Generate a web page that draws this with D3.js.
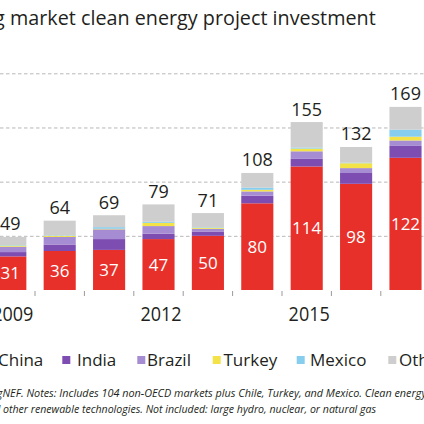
<!DOCTYPE html>
<html><head><meta charset="utf-8">
<script src="https://cdn.jsdelivr.net/npm/d3@7/dist/d3.min.js"></script>
<style>html,body{margin:0;padding:0;background:#fff;overflow:hidden}</style>
</head><body>
<svg id="c" width="424" height="424"></svg>
<script>
// ---- data ----
const years   = [2009, 2010, 2011, 2012, 2013, 2014, 2015, 2016, 2017];
const china   = [31, 36, 37, 47, 50, 80, 114, 98, 122];
const india   = [4, 6, 10, 5, 4, 7, 7, 10, 11];
const brazil  = [5, 7, 9, 7, 2.5, 4, 7, 4.5, 5];
const turkey  = [1, 1, 0.5, 3, 1, 1.5, 2.5, 4.5, 3.5];
const mexico  = [0.5, 0.5, 1.5, 1, 0.5, 2, 1, 0.5, 6.5];
const other   = [7.5, 13.5, 11, 16, 13, 13.5, 23.5, 14.5, 21];
const totals  = [49, 64, 69, 79, 71, 108, 155, 132, 169];
const seriesNames  = ["China", "India", "Brazil", "Turkey", "Mexico", "Other"];
const seriesColors = ["#e8302a", "#7d4db2", "#a68cd2", "#f3e349", "#86cdee", "#cecece"];
const yTickValues  = [50, 100, 150, 200];
const xLabelYears  = [2009, 2012, 2015];
const titleText = "Emerging market clean energy project investment";
const note1 = "Source: BloombergNEF. Notes: Includes 104 non-OECD markets plus Chile, Turkey, and Mexico. Clean energy includes wind, solar, biomass & waste,";
const note2 = "geothermal, small hydro and other renewable technologies. Not included: large hydro, nuclear, or natural gas";

// ---- layout ----
const W = 424, H = 424;
const baseY = 290, topY = 73.3;
const FONT = "'Open Sans', 'Noto Sans', sans-serif";
const TXT = "#231f20";

const svg = d3.select("#c");
const seriesVals = [china, india, brazil, turkey, mexico, other];
const table = years.map((y, i) => {
  const r = {year: y};
  seriesNames.forEach((s, k) => r[s] = seriesVals[k][i]);
  return r;
});
const stacked = d3.stack().keys(seriesNames)(table);

const x = d3.scaleBand().domain(years).range([-14.4, 430.2])
  .paddingInner(0.35).paddingOuter(0.175);
const y = d3.scaleLinear().domain([0, 200]).range([baseY, topY]);
const color = d3.scaleOrdinal().domain(seriesNames).range(seriesColors);

// gridlines
const grid = svg.append("g")
  .call(d3.axisRight(y).tickValues(yTickValues).tickSize(W).tickFormat(""));
grid.select(".domain").remove();
grid.selectAll("line").attr("stroke", "#b8b8b8").attr("stroke-width", 1)
  .attr("stroke-dasharray", "3.5,2.5");

// bars
svg.append("g").selectAll("g").data(stacked).join("g")
  .attr("fill", d => color(d.key))
  .selectAll("rect").data(d => d).join("rect")
  .attr("x", d => x(d.data.year))
  .attr("width", x.bandwidth())
  .attr("y", d => y(d[1]))
  .attr("height", d => y(d[0]) - y(d[1]));

// tick marks at band boundaries
const step = x.step();
svg.append("g").selectAll("line").data(years).join("line")
  .attr("x1", d => x(d) - step * x.paddingOuter())
  .attr("x2", d => x(d) - step * x.paddingOuter())
  .attr("y1", baseY + 1).attr("y2", baseY + 6)
  .attr("stroke", "#9a9a9a").attr("stroke-width", 1);

// x labels
const xa = svg.append("g").attr("transform", `translate(0,${baseY})`)
  .call(d3.axisBottom(x).tickValues(xLabelYears).tickSize(0).tickFormat(d3.format("d")));
xa.select(".domain").remove();
xa.selectAll("text").attr("y", 0).attr("dy", 0).attr("x", 0)
  .attr("transform", "translate(0,30.5) scale(0.9,1)")
  .style("font-family", FONT).style("font-size", "20px").attr("fill", TXT);
xa.selectAll(".tick").each(function(d){
  d3.select(this).attr("transform", `translate(${x(d) + x.bandwidth()/2 + 2.5},0)`);
});

// total labels
svg.append("g").selectAll("text").data(years).join("text")
  .attr("x", d => x(d) + x.bandwidth()/2)
  .attr("y", (d, i) => y(totals[i]) - 6.5)
  .attr("text-anchor", "middle")
  .style("font-family", FONT).style("font-size", "18px").attr("fill", TXT)
  .text((d, i) => totals[i]);

// china labels
svg.append("g").selectAll("text").data(years).join("text")
  .attr("x", d => x(d) + x.bandwidth()/2)
  .attr("y", (d, i) => (y(china[i]) + y(0)) / 2)
  .attr("dy", "0.36em")
  .attr("text-anchor", "middle")
  .style("font-family", FONT).style("font-size", "17px").attr("fill", "#fff")
  .text((d, i) => china[i]);

// text placed by fitting a visible substring between two x positions
function placeText(str, aStr, bStr, xa, xb, yb, size, italic) {
  const t = svg.append("text").attr("x", 0).attr("y", 0)
    .style("font-family", FONT).style("font-size", size + "px")
    .style("font-style", italic ? "italic" : "normal")
    .attr("fill", TXT).text(str);
  const ai = str.indexOf(aStr);
  const bi = str.lastIndexOf(bStr) + bStr.length;
  const node = t.node();
  const pre = ai > 0 ? node.getSubStringLength(0, ai) : 0;
  const vis = node.getSubStringLength(ai, bi - ai);
  const sx = (xb - xa) / vis;
  t.attr("transform", `translate(${xa - pre * sx},${yb}) scale(${sx},1)`);
  return t;
}
placeText(titleText, "market", "investment", 10, 376, 25, 20.5, false);
placeText(note1, "NEF", "Mexico.", 2.7, 363, 397, 10.5, true);
placeText(note2, " other renewable", "natural gas", 0.5, 377, 413, 10.5, true);

// legend
const legendLayout = [
  {sq: -19, tx: -2}, {sq: 62.3, tx: 77}, {sq: 137.3, tx: 147},
  {sq: 212.7, tx: 223.5}, {sq: 296.7, tx: 310}, {sq: 388.3, tx: 399}
];
const lg = svg.append("g");
seriesNames.forEach((s, i) => {
  const L = legendLayout[i];
  lg.append("rect").attr("x", L.sq).attr("y", 356).attr("width", 8).attr("height", 8)
    .attr("fill", color(s));
  lg.append("text").attr("x", L.tx).attr("y", 366)
    .style("font-family", FONT).style("font-size", "17px").attr("fill", TXT).text(s);
});
</script>
</body></html>
